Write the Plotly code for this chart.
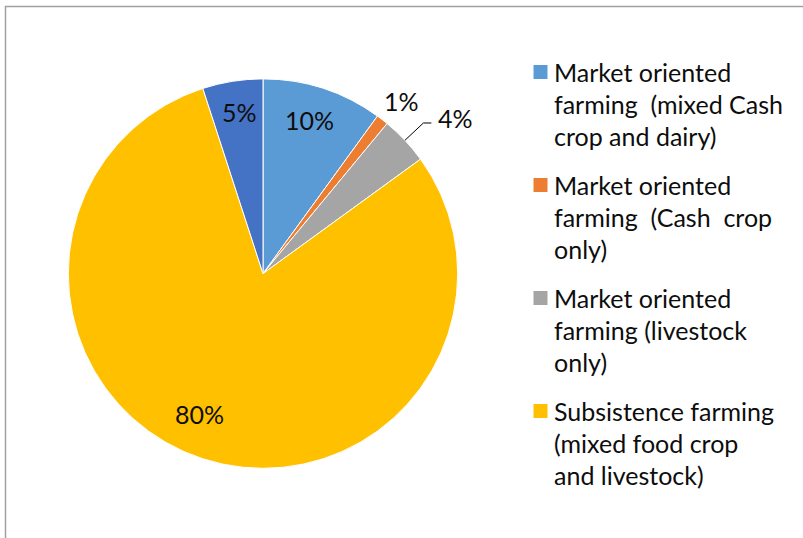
import math
import plotly.graph_objects as go

# Farming system shares (percent of households)
categories = [
    "Market oriented farming (mixed Cash crop and dairy)",
    "Market oriented farming (Cash crop only)",
    "Market oriented farming (livestock only)",
    "Subsistence farming (mixed food crop and livestock)",
    "Other",
]
values = [10, 1, 4, 80, 5]
colors = ["#5B9BD5", "#ED7D31", "#A5A5A5", "#FFC000", "#4472C4"]

# Legend text, wrapped as drawn (first four categories only)
legend_lines = [
    ["Market oriented", "farming&nbsp; (mixed Cash", "crop and dairy)"],
    ["Market oriented", "farming&nbsp; (Cash&nbsp; crop", "only)"],
    ["Market oriented", "farming (livestock", "only)"],
    ["Subsistence farming", "(mixed food crop", "and livestock)"],
]

# Data-label placement: angular nudge (deg) and radius as a fraction of the pie radius
label_nudge = [-1.0, 0.9, 4.2, 6.2, 0.6]
label_radius = [0.825, 1.138, 1.27, 0.79, 0.84]

W, H = 803, 538
CX, CY, R = 263.0, 273.6, 194.7
FONT = "Lato, Carlito, Calibri, sans-serif"
FS = 25
TXT = "#0d0d0d"


def px(x, y):
    return x / W, 1 - y / H


def polar(theta_deg, r_frac):
    t = math.radians(theta_deg)
    return CX + r_frac * R * math.sin(t), CY - r_frac * R * math.cos(t)


fig = go.Figure(
    go.Pie(
        labels=categories,
        values=values,
        sort=False,
        direction="clockwise",
        rotation=0,
        marker=dict(colors=colors, line=dict(color="white", width=1)),
        textinfo="none",
        showlegend=False,
        hoverinfo="label+percent",
        domain=dict(
            x=[(CX - R) / W, (CX + R) / W],
            y=[1 - (CY + R) / H, 1 - (CY - R) / H],
        ),
    )
)

annotations = []
shapes = []

# Percentage labels placed around each slice's mid angle
total = sum(values)
start = 0.0
mids = []
for v in values:
    span = 360.0 * v / total
    mids.append(start + span / 2)
    start += span

for i, v in enumerate(values):
    x, y = polar(mids[i] + label_nudge[i], label_radius[i])
    xp, yp = px(x, y)
    annotations.append(dict(
        x=xp, y=yp, xref="paper", yref="paper", showarrow=False,
        text=f"{round(100 * v / total)}%", xanchor="center", yanchor="middle",
        font=dict(family=FONT, size=FS, color=TXT),
    ))

# Leader line for the small grey slice
x0, y0 = polar(mids[2], 1.0)
x1, y1 = polar(mids[2], 1.13)
x2 = x1 + 8
p0, p1, p2 = px(x0, y0), px(x1, y1), px(x2, y1)
shapes.append(dict(
    type="path", xref="paper", yref="paper",
    path=f"M {p0[0]} {p0[1]} L {p1[0]} {p1[1]} L {p2[0]} {p2[1]}",
    line=dict(color="#000000", width=1),
))

# Custom legend
LEG_X_BOX, LEG_X_TXT = 533.5, 552
LEG_Y0, LEG_STEP, LINE_STEP, BOX = 72, 113, 32, 14
for i, lines in enumerate(legend_lines):
    ytop = LEG_Y0 + i * LEG_STEP
    b0 = px(LEG_X_BOX, ytop - BOX / 2)
    b1 = px(LEG_X_BOX + BOX, ytop + BOX / 2)
    shapes.append(dict(
        type="rect", xref="paper", yref="paper",
        x0=b0[0], y0=b0[1], x1=b1[0], y1=b1[1],
        fillcolor=colors[i], line=dict(width=0),
    ))
    for j, line in enumerate(lines):
        tx, ty = px(LEG_X_TXT, ytop + j * LINE_STEP)
        annotations.append(dict(
            x=tx, y=ty, xref="paper", yref="paper", showarrow=False,
            text=line, xanchor="left", yanchor="middle",
            font=dict(family=FONT, size=FS, color=TXT),
        ))

# Chart-area frame (top and left edges)
f0, f1, f2 = px(5.5, 538), px(5.5, 6.5), px(803, 6.5)
shapes.append(dict(
    type="path", xref="paper", yref="paper",
    path=f"M {f0[0]} {f0[1]} L {f1[0]} {f1[1]} L {f2[0]} {f2[1]}",
    line=dict(color="#A0A0A0", width=1.5),
))

fig.update_layout(
    width=W, height=H,
    margin=dict(l=0, r=0, t=0, b=0),
    paper_bgcolor="white",
    plot_bgcolor="white",
    annotations=annotations,
    shapes=shapes,
)

fig.write_html("out.html")
